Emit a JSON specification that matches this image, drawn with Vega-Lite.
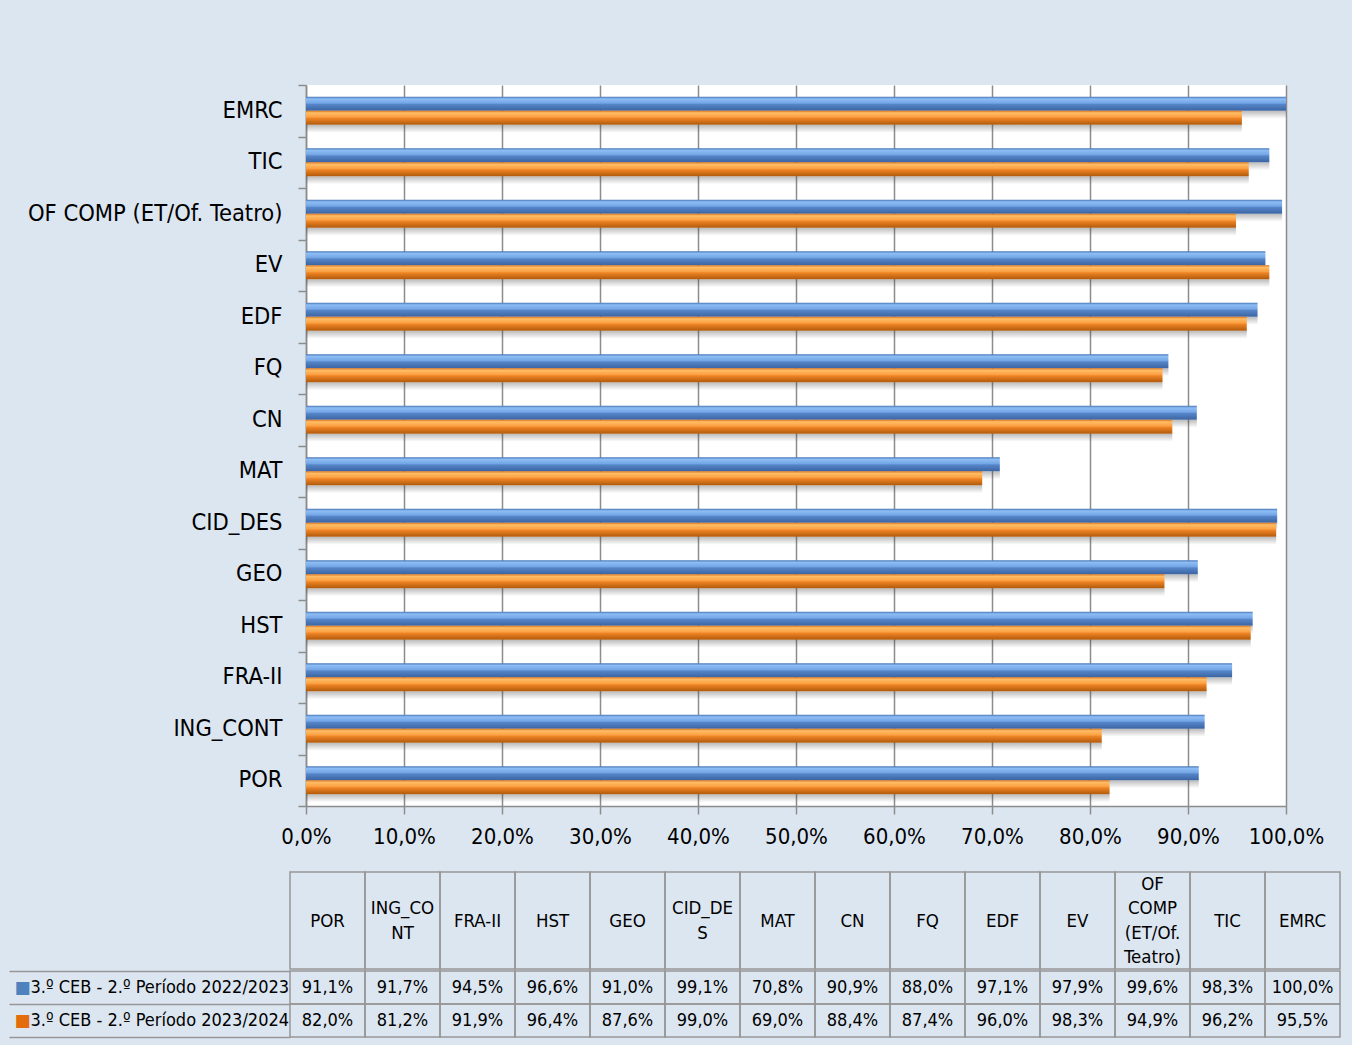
{
  "$schema": "https://vega.github.io/schema/vega-lite/v6.json",
  "background": "#dce6f1",
  "padding": {"left": 8, "top": 84, "right": 12, "bottom": 8},
  "spacing": 0,
  "config": {
    "locale": {"number": {"decimal": ",", "thousands": ".", "grouping": [3], "currency": ["", " €"]}},
    "font": "DejaVu Sans Condensed, Liberation Sans",
    "view": {"stroke": null},
    "axis": {"labelFont": "DejaVu Sans Condensed, Liberation Sans", "labelColor": "#000000"},
    "text": {"font": "DejaVu Sans Condensed, Liberation Sans", "color": "#000000"}
  },
  "datasets": {
    "rates": [
      {"subject": "POR", "series": "3.º CEB - 2.º Período 2022/2023", "value": 0.911},
      {"subject": "ING_CONT", "series": "3.º CEB - 2.º Período 2022/2023", "value": 0.917},
      {"subject": "FRA-II", "series": "3.º CEB - 2.º Período 2022/2023", "value": 0.945},
      {"subject": "HST", "series": "3.º CEB - 2.º Período 2022/2023", "value": 0.966},
      {"subject": "GEO", "series": "3.º CEB - 2.º Período 2022/2023", "value": 0.910},
      {"subject": "CID_DES", "series": "3.º CEB - 2.º Período 2022/2023", "value": 0.991},
      {"subject": "MAT", "series": "3.º CEB - 2.º Período 2022/2023", "value": 0.708},
      {"subject": "CN", "series": "3.º CEB - 2.º Período 2022/2023", "value": 0.909},
      {"subject": "FQ", "series": "3.º CEB - 2.º Período 2022/2023", "value": 0.880},
      {"subject": "EDF", "series": "3.º CEB - 2.º Período 2022/2023", "value": 0.971},
      {"subject": "EV", "series": "3.º CEB - 2.º Período 2022/2023", "value": 0.979},
      {"subject": "OF COMP (ET/Of. Teatro)", "series": "3.º CEB - 2.º Período 2022/2023", "value": 0.996},
      {"subject": "TIC", "series": "3.º CEB - 2.º Período 2022/2023", "value": 0.983},
      {"subject": "EMRC", "series": "3.º CEB - 2.º Período 2022/2023", "value": 1.0},
      {"subject": "POR", "series": "3.º CEB - 2.º Período 2023/2024", "value": 0.820},
      {"subject": "ING_CONT", "series": "3.º CEB - 2.º Período 2023/2024", "value": 0.812},
      {"subject": "FRA-II", "series": "3.º CEB - 2.º Período 2023/2024", "value": 0.919},
      {"subject": "HST", "series": "3.º CEB - 2.º Período 2023/2024", "value": 0.964},
      {"subject": "GEO", "series": "3.º CEB - 2.º Período 2023/2024", "value": 0.876},
      {"subject": "CID_DES", "series": "3.º CEB - 2.º Período 2023/2024", "value": 0.990},
      {"subject": "MAT", "series": "3.º CEB - 2.º Período 2023/2024", "value": 0.690},
      {"subject": "CN", "series": "3.º CEB - 2.º Período 2023/2024", "value": 0.884},
      {"subject": "FQ", "series": "3.º CEB - 2.º Período 2023/2024", "value": 0.874},
      {"subject": "EDF", "series": "3.º CEB - 2.º Período 2023/2024", "value": 0.960},
      {"subject": "EV", "series": "3.º CEB - 2.º Período 2023/2024", "value": 0.983},
      {"subject": "OF COMP (ET/Of. Teatro)", "series": "3.º CEB - 2.º Período 2023/2024", "value": 0.949},
      {"subject": "TIC", "series": "3.º CEB - 2.º Período 2023/2024", "value": 0.962},
      {"subject": "EMRC", "series": "3.º CEB - 2.º Período 2023/2024", "value": 0.955}
    ],
    "subjects": [
      {"subject": "POR", "header": "POR"},
      {"subject": "ING_CONT", "header": "ING_CO\nNT"},
      {"subject": "FRA-II", "header": "FRA-II"},
      {"subject": "HST", "header": "HST"},
      {"subject": "GEO", "header": "GEO"},
      {"subject": "CID_DES", "header": "CID_DE\nS"},
      {"subject": "MAT", "header": "MAT"},
      {"subject": "CN", "header": "CN"},
      {"subject": "FQ", "header": "FQ"},
      {"subject": "EDF", "header": "EDF"},
      {"subject": "EV", "header": "EV"},
      {"subject": "OF COMP (ET/Of. Teatro)", "header": "OF\nCOMP\n(ET/Of.\nTeatro)"},
      {"subject": "TIC", "header": "TIC"},
      {"subject": "EMRC", "header": "EMRC"}
    ]
  },
  "vconcat": [
    {
      "width": 980,
      "height": 721,
      "view": {"fill": "#ffffff", "stroke": null},
      "data": {"name": "rates"},
      "encoding": {
        "x": {
          "field": "value", "type": "quantitative",
          "scale": {"domain": [0, 1], "nice": false},
          "axis": {
            "title": null, "values": [0, 0.1, 0.2, 0.3, 0.4, 0.5, 0.6, 0.7, 0.8, 0.9, 1.0],
            "format": ".1%", "grid": true, "gridColor": "#8c8c8c", "gridWidth": 1.5,
            "tickSize": 8, "tickColor": "#8c8c8c", "tickWidth": 1.5,
            "domainColor": "#8c8c8c", "domainWidth": 1.5,
            "labelFontSize": 22, "labelPadding": 12, "labelFlush": false, "minExtent": 65
          }
        },
        "y": {
          "field": "subject", "type": "nominal",
          "sort": ["EMRC", "TIC", "OF COMP (ET/Of. Teatro)", "EV", "EDF", "FQ", "CN", "MAT", "CID_DES", "GEO", "HST", "FRA-II", "ING_CONT", "POR"],
          "scale": {"paddingInner": 0, "paddingOuter": 0},
          "axis": null
        }
      },
      "layer": [
        {
          "transform": [{"filter": "datum.series === '3.º CEB - 2.º Período 2022/2023'"}],
          "mark": {
            "type": "bar", "height": 8, "yOffset": 4,
            "color": {
              "gradient": "linear", "x1": 0, "y1": 0, "x2": 0, "y2": 1,
              "stops": [
                {"offset": 0, "color": "rgba(60,60,60,0.35)"},
                {"offset": 1, "color": "rgba(60,60,60,0)"}
              ]
            }
          }
        },
        {
          "transform": [{"filter": "datum.series === '3.º CEB - 2.º Período 2023/2024'"}],
          "mark": {
            "type": "bar", "height": 8, "yOffset": 18,
            "color": {
              "gradient": "linear", "x1": 0, "y1": 0, "x2": 0, "y2": 1,
              "stops": [
                {"offset": 0, "color": "rgba(60,60,60,0.35)"},
                {"offset": 1, "color": "rgba(60,60,60,0)"}
              ]
            }
          }
        },
        {
          "transform": [{"filter": "datum.series === '3.º CEB - 2.º Período 2022/2023'"}],
          "mark": {
            "type": "bar",
            "color": {
              "gradient": "linear", "x1": 0, "y1": 0, "x2": 0, "y2": 1,
              "stops": [
                {"offset": 0, "color": "#4a78b8"},
                {"offset": 0.15, "color": "#8dbdf5"},
                {"offset": 0.45, "color": "#74a6e6"},
                {"offset": 0.55, "color": "#5585c8"},
                {"offset": 1, "color": "#3b64a2"}
              ]
            }
          },
          "encoding": {
            "yOffset": {
              "field": "series", "type": "nominal",
              "sort": ["3.º CEB - 2.º Período 2022/2023", "3.º CEB - 2.º Período 2023/2024"],
              "scale": {"domain": ["3.º CEB - 2.º Período 2022/2023", "3.º CEB - 2.º Período 2023/2024"], "paddingInner": 0, "paddingOuter": 0.85}
            },
            "y": {
              "field": "subject", "type": "nominal",
              "sort": ["EMRC", "TIC", "OF COMP (ET/Of. Teatro)", "EV", "EDF", "FQ", "CN", "MAT", "CID_DES", "GEO", "HST", "FRA-II", "ING_CONT", "POR"],
              "axis": {
                "title": null, "orient": "left", "grid": false, "labels": false,
                "tickBand": "extent", "tickSize": 8,
                "tickColor": "#8c8c8c", "tickWidth": 1.5, "domainColor": "#8c8c8c", "domainWidth": 1.5
              }
            }
          }
        },
        {
          "transform": [{"filter": "datum.series === '3.º CEB - 2.º Período 2023/2024'"}],
          "mark": {
            "type": "bar",
            "color": {
              "gradient": "linear", "x1": 0, "y1": 0, "x2": 0, "y2": 1,
              "stops": [
                {"offset": 0, "color": "#d9731c"},
                {"offset": 0.15, "color": "#ffbd66"},
                {"offset": 0.45, "color": "#fba042"},
                {"offset": 0.55, "color": "#ee8324"},
                {"offset": 1, "color": "#b05a0c"}
              ]
            }
          },
          "encoding": {
            "yOffset": {
              "field": "series", "type": "nominal",
              "sort": ["3.º CEB - 2.º Período 2022/2023", "3.º CEB - 2.º Período 2023/2024"]
            },
            "y": {
              "field": "subject", "type": "nominal",
              "sort": ["EMRC", "TIC", "OF COMP (ET/Of. Teatro)", "EV", "EDF", "FQ", "CN", "MAT", "CID_DES", "GEO", "HST", "FRA-II", "ING_CONT", "POR"],
              "axis": {
                "title": null, "orient": "left", "grid": false, "ticks": false, "domain": false,
                "labelFontSize": 23.5, "labelPadding": 24, "labelLimit": 0
              }
            }
          }
        }
      ],
      "resolve": {"axis": {"y": "independent"}}
    },
    {
      "width": 1034,
      "height": 97,
      "data": {"name": "subjects"},
      "encoding": {
        "x": {
          "field": "subject", "type": "nominal",
          "sort": ["POR", "ING_CONT", "FRA-II", "HST", "GEO", "CID_DES", "MAT", "CN", "FQ", "EDF", "EV", "OF COMP (ET/Of. Teatro)", "TIC", "EMRC"],
          "scale": {"range": [-16, 1034], "paddingInner": 0, "paddingOuter": 0},
          "axis": null
        }
      },
      "layer": [
        {"mark": {"type": "rect", "fill": "transparent", "stroke": "#969696", "strokeWidth": 1.5}},
        {
          "transform": [
            {"calculate": "split(datum.header, '\\n')", "as": "line"},
            {"flatten": ["line"]},
            {"window": [{"op": "row_number", "as": "idx"}], "groupby": ["subject"]},
            {"joinaggregate": [{"op": "count", "as": "n"}], "groupby": ["subject"]},
            {"calculate": "datum.idx - (datum.n + 1) / 2", "as": "pos"}
          ],
          "mark": {"type": "text", "fontSize": 18.5, "baseline": "middle"},
          "encoding": {
            "y": {"field": "pos", "type": "quantitative", "scale": {"domain": [-2, 2], "reverse": true}, "axis": null},
            "text": {"field": "line", "type": "nominal"}
          }
        }
      ]
    },
    {
      "width": 1034,
      "height": 66,
      "data": {"name": "rates"},
      "encoding": {
        "x": {
          "field": "subject", "type": "nominal",
          "sort": ["POR", "ING_CONT", "FRA-II", "HST", "GEO", "CID_DES", "MAT", "CN", "FQ", "EDF", "EV", "OF COMP (ET/Of. Teatro)", "TIC", "EMRC"],
          "scale": {"range": [-16, 1034], "paddingInner": 0, "paddingOuter": 0},
          "axis": null
        }
      },
      "layer": [
        {
          "mark": {"type": "rect", "fill": "transparent", "stroke": "#969696", "strokeWidth": 1.5},
          "encoding": {
            "y": {
              "field": "series", "type": "nominal",
              "sort": ["3.º CEB - 2.º Período 2022/2023", "3.º CEB - 2.º Período 2023/2024"],
              "scale": {"paddingInner": 0, "paddingOuter": 0},
              "axis": {
                "title": null, "orient": "left", "offset": 16, "domain": false, "grid": false, "labels": false,
                "tickBand": "extent", "tickSize": 281, "tickColor": "#969696", "tickWidth": 1.5
              }
            }
          }
        },
        {
          "mark": {"type": "rect", "fill": "transparent", "strokeOpacity": 0},
          "encoding": {
            "y": {
              "field": "series", "type": "nominal",
              "sort": ["3.º CEB - 2.º Período 2022/2023", "3.º CEB - 2.º Período 2023/2024"],
              "axis": {
                "title": null, "orient": "left", "offset": 16, "domain": false, "ticks": false, "grid": false,
                "labelExpr": "'■'", "labelAlign": "left", "labelPadding": 276, "labelFontSize": 17,
                "labelFont": "DejaVu Sans",
                "labelColor": {"condition": {"test": "datum.value === '3.º CEB - 2.º Período 2022/2023'", "value": "#4f81bd"}, "value": "#e46c0a"}
              }
            }
          }
        },
        {
          "mark": {"type": "text", "fontSize": 18, "baseline": "middle"},
          "encoding": {
            "y": {
              "field": "series", "type": "nominal",
              "sort": ["3.º CEB - 2.º Período 2022/2023", "3.º CEB - 2.º Período 2023/2024"],
              "axis": {
                "title": null, "orient": "left", "offset": 16, "domain": false, "ticks": false, "grid": false,
                "labelAlign": "left", "labelPadding": 260, "labelFontSize": 18, "labelLimit": 0
              }
            },
            "text": {"field": "value", "type": "quantitative", "format": ".1%"}
          }
        }
      ],
      "resolve": {"axis": {"y": "independent"}}
    }
  ]
}
